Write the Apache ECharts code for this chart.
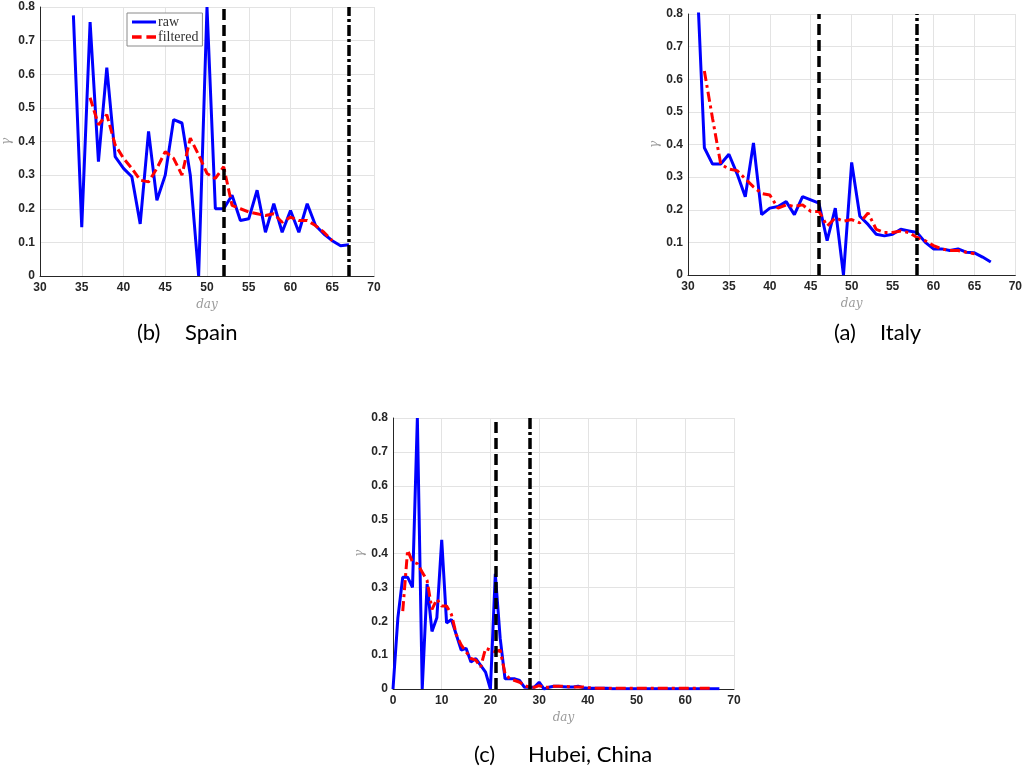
<!DOCTYPE html>
<html>
<head>
<meta charset="utf-8">
<script src="https://cdn.jsdelivr.net/npm/echarts@6/dist/echarts.min.js"></script>
<style>
html,body{margin:0;padding:0;background:#fff;}
#chart{width:1025px;height:769px;}
</style>
</head>
<body>
<div id="chart"></div>
<script>
// ---------- DATA ----------
const spainRawStart = 34;
const spainRaw = [0.775,0.145,0.755,0.34,0.62,0.355,0.32,0.295,0.155,0.43,0.225,0.30,0.465,0.455,0.30,0.0,0.80,0.20,0.20,0.24,0.165,0.17,0.255,0.13,0.215,0.13,0.195,0.13,0.215,0.15,0.125,0.105,0.09,0.093];
const spainFiltStart = 36;
const spainFilt = [0.53,0.45,0.48,0.39,0.35,0.32,0.285,0.28,0.32,0.37,0.35,0.30,0.41,0.36,0.305,0.29,0.325,0.21,0.20,0.19,0.185,0.18,0.185,0.16,0.175,0.165,0.165,0.15,0.13,0.105];
const spainVLines = [52, 67];

const italyRawStart = 31;
const italyRaw = [0.97,0.39,0.34,0.34,0.37,0.31,0.24,0.405,0.185,0.205,0.21,0.225,0.185,0.24,0.23,0.22,0.105,0.205,0.0,0.345,0.18,0.155,0.125,0.12,0.125,0.14,0.135,0.13,0.10,0.08,0.08,0.075,0.08,0.07,0.068,0.055,0.04];
const italyFiltStart = 32;
const italyFilt = [0.625,0.48,0.34,0.325,0.32,0.295,0.27,0.25,0.245,0.205,0.215,0.21,0.215,0.195,0.195,0.15,0.175,0.165,0.17,0.16,0.19,0.14,0.13,0.13,0.135,0.13,0.115,0.105,0.09,0.08,0.075,0.075,0.07,0.065];
const italyVLines = [46, 58];

const hubeiRawStart = 0;
const hubeiRaw = [0,0.21,0.33,0.33,0.30,0.80,0.0,0.31,0.17,0.21,0.44,0.195,0.205,0.16,0.115,0.12,0.08,0.09,0.07,0.05,0.0,0.34,0.15,0.03,0.03,0.03,0.025,0.005,0.005,0.005,0.02,0.0,0.005,0.008,0.008,0.007,0.006,0.006,0.008,0.004,0.002,0.002,0.002,0.002,0.002,0.001,0.001,0.001,0.001,0.001,0.001,0.001,0.001,0.001,0.001,0.001,0.001,0.001,0.001,0.001,0.001,0.001,0.001,0.001,0.001,0.001,0.001,0.001];
const hubeiFiltStart = 2;
const hubeiFilt = [0.23,0.41,0.375,0.37,0.345,0.32,0.235,0.265,0.245,0.245,0.22,0.16,0.13,0.11,0.09,0.085,0.065,0.12,0.115,0.11,0.115,0.045,0.03,0.025,0.02,0.01,0.005,0.005,0.01,0.005,0.005,0.008,0.008,0.008,0.007,0.006,0.006,0.006,0.004,0.003,0.002,0.002,0.002,0.002,0.002,0.002,0.002,0.002,0.002,0.002,0.002,0.002,0.002,0.002,0.002,0.002,0.002,0.002,0.002,0.002,0.002,0.002,0.002,0.002];
const hubeiVLines = [21, 28];

const captionTags = ['(b)','(a)','(c)'];
const captionNames = ['Spain','Italy','Hubei, China'];

// ---------- BUILD ----------
function pairs(start, arr){ return arr.map((v,i)=>[start+i, v]); }

const grids = [
  {left:35, top:7, width:339, height:269},
  {left:688, top:14, width:330, height:261},
  {left:393, top:418, width:341, height:271}
];
const xRanges = [[30,70,5],[30,70,5],[0,70,10]];

const axisLabelStyle = {color:'#262626', fontFamily:'Liberation Sans, Arial', fontWeight:'bold', fontSize:12};
const gridLine = {show:true, lineStyle:{color:'#e3e3e3', width:1}};

const xAxes = xRanges.map((r,i)=>({
  gridIndex:i, type:'value', min:r[0], max:r[1], interval:r[2],
  name:'day', nameLocation:'middle', nameGap:23,
  nameTextStyle:{fontFamily:'DejaVu Serif, Liberation Serif', fontStyle:'italic', color:'#9a9a9a', fontSize:12},
  axisLine:{show:true, lineStyle:{color:'#262626', width:1}},
  axisTick:{show:false},
  axisLabel:Object.assign({margin:6}, axisLabelStyle),
  splitLine:gridLine
}));
const yAxes = grids.map((g,i)=>({
  gridIndex:i, type:'value', min:0, max:0.8, interval:0.1,
  name:'γ', nameLocation:'middle', nameGap:27, nameRotate:90,
  nameTextStyle:{fontFamily:'DejaVu Serif, Liberation Serif', fontStyle:'italic', color:'#9a9a9a', fontSize:12},
  axisLine:{show:true, lineStyle:{color:'#262626', width:1}},
  axisTick:{show:false},
  axisLabel:Object.assign({margin:5, formatter:v=>String(Math.round(v*10)/10)}, axisLabelStyle),
  splitLine:gridLine
}));

const sets = [
  {raw:pairs(spainRawStart,spainRaw), filt:pairs(spainFiltStart,spainFilt), v:spainVLines, ftype:[9,4]},
  {raw:pairs(italyRawStart,italyRaw), filt:pairs(italyFiltStart,italyFilt), v:italyVLines, ftype:[10,4,3,4]},
  {raw:pairs(hubeiRawStart,hubeiRaw), filt:pairs(hubeiFiltStart,hubeiFilt), v:hubeiVLines, ftype:[10,4,3,4]}
];

const series = [];
sets.forEach((s,i)=>{
  series.push({
    name:'raw', type:'line', xAxisIndex:i, yAxisIndex:i, data:s.raw,
    symbol:'none', clip:true, lineStyle:{color:'#0000ff', width:3}, itemStyle:{color:'#0000ff'}, z:2
  });
  series.push({
    name:'filtered', type:'line', xAxisIndex:i, yAxisIndex:i, data:s.filt,
    symbol:'none', clip:true, lineStyle:{color:'#ff0000', width:3, type:s.ftype}, itemStyle:{color:'#ff0000'}, z:3,
    markLine:{
      silent:true, symbol:['none','none'], label:{show:false}, animation:false,
      data:[
        {xAxis:s.v[0], lineStyle:{color:'#000', width:3.5, type:[11,5]}},
        {xAxis:s.v[1], lineStyle:{color:'#000', width:3.5, type:[11,3,3,3]}}
      ]
    }
  });
});

const capFont = '22px Lato, "Open Sans", sans-serif';
const capPos = [[137,185,322],[834,880,322],[474,528,744]];
const graphics = [];
capPos.forEach((p,i)=>{
  graphics.push({type:'text', left:p[0], top:p[2], style:{text:captionTags[i], font:capFont, fill:'#000'}});
  graphics.push({type:'text', left:p[1], top:p[2], style:{text:captionNames[i], font:capFont, fill:'#000'}});
});

const chart = echarts.init(document.getElementById('chart'), null, {renderer:'canvas'});
chart.setOption({
  animation:false,
  backgroundColor:'#fff',
  grid:grids,
  xAxis:xAxes,
  yAxis:yAxes,
  legend:{
    data:[
      {name:'raw', icon:'path://M0,0H24V3H0Z'},
      {name:'filtered', icon:'path://M0,0H8V3H0Z M12,0H20V3H12Z'}
    ],
    left:127, top:13, orient:'vertical',
    backgroundColor:'#fff', borderColor:'#8a8a8a', borderWidth:1,
    padding:[2,4,2,5], itemGap:1, itemWidth:24, itemHeight:12,
    textStyle:{fontFamily:'Liberation Serif, DejaVu Serif', fontSize:14, color:'#333', padding:[0,0,0,-3]}
  },
  series:series,
  graphic:graphics
});
</script>
</body>
</html>
